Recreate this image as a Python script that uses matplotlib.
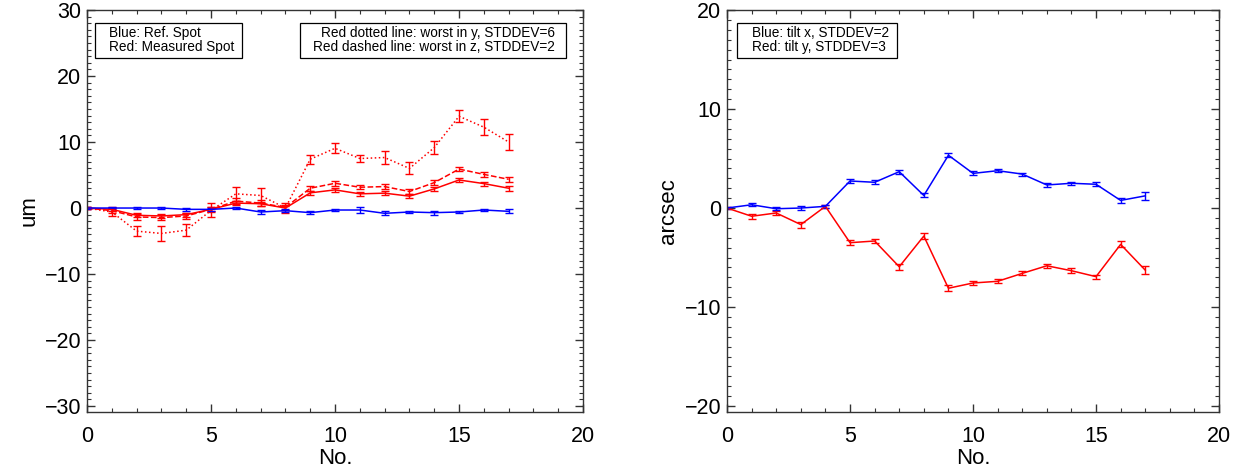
import matplotlib
matplotlib.use("Agg")
import matplotlib.pyplot as plt
from matplotlib.ticker import MultipleLocator
from matplotlib.patches import Rectangle

plt.rcParams['font.family'] = ['Liberation Sans', 'DejaVu Sans']

# point index
no = list(range(18))

# left panel: spot positions (um)
ref_spot = [0, 0.0, 0.0, 0.0, -0.2, -0.2, 0.0, -0.6, -0.4, -0.7, -0.3, -0.3, -0.8, -0.6, -0.7, -0.6, -0.3, -0.5]
ref_err = [0.1, 0.2, 0.2, 0.2, 0.2, 0.2, 0.2, 0.3, 0.2, 0.2, 0.2, 0.4, 0.3, 0.2, 0.3, 0.2, 0.2, 0.3]

meas_spot = [0, -0.2, -1.1, -1.2, -1.0, -0.2, 0.75, 0.65, 0.0, 2.3, 2.75, 2.15, 2.25, 1.8, 2.9, 4.25, 3.7, 3.0]
meas_err = [0.1, 0.3, 0.3, 0.3, 0.3, 0.3, 0.3, 0.3, 0.3, 0.3, 0.3, 0.3, 0.3, 0.3, 0.3, 0.3, 0.3, 0.4]

worst_z = [0, -0.4, -1.35, -1.45, -1.2, -0.2, 1.05, 0.75, 0.1, 3.0, 3.75, 3.15, 3.25, 2.5, 3.85, 5.9, 5.1, 4.35]
worst_z_err = [0.1, 0.4, 0.4, 0.4, 0.4, 0.4, 0.4, 0.4, 0.4, 0.4, 0.4, 0.3, 0.4, 0.4, 0.4, 0.3, 0.4, 0.4]

worst_y = [0, -0.6, -3.5, -3.85, -3.35, -0.35, 2.15, 1.9, 0.0, 7.4, 9.05, 7.5, 7.65, 6.0, 9.15, 13.9, 12.25, 10.0]
worst_y_err = [0.1, 0.6, 0.8, 1.1, 0.9, 1.05, 1.05, 1.1, 0.7, 0.7, 0.75, 0.55, 0.95, 0.9, 1.0, 0.9, 1.2, 1.2]

# right panel: tilts (arcsec)
tilt_x = [0, 0.33, -0.07, 0.0, 0.17, 2.73, 2.6, 3.67, 1.27, 5.33, 3.5, 3.77, 3.43, 2.33, 2.5, 2.4, 0.77, 1.23]
tilt_x_err = [0.1, 0.15, 0.15, 0.2, 0.15, 0.2, 0.2, 0.2, 0.2, 0.2, 0.2, 0.15, 0.15, 0.2, 0.15, 0.2, 0.25, 0.4]
tilt_y = [0, -0.83, -0.5, -1.67, 0.17, -3.5, -3.33, -5.93, -2.83, -8.1, -7.57, -7.4, -6.6, -5.83, -6.33, -6.93, -3.67, -6.27]
tilt_y_err = [0.1, 0.25, 0.2, 0.3, 0.15, 0.25, 0.2, 0.3, 0.3, 0.3, 0.2, 0.2, 0.2, 0.2, 0.25, 0.2, 0.3, 0.4]

fig = plt.figure(figsize=(12.4, 4.69), dpi=100, facecolor='white')
ax1 = fig.add_axes([0.0702, 0.1215, 0.4, 0.8572])
ax2 = fig.add_axes([0.5863, 0.1215, 0.3968, 0.8572])


def series(ax, y, err, color, ls):
    ax.errorbar(no, y, yerr=err, color=color, ls=ls, lw=1.1, elinewidth=1.0,
                capsize=3, capthick=1.0)


def style(ax, ylim, ylabel):
    ax.set_xlim(0, 20)
    ax.set_ylim(*ylim)
    ax.xaxis.set_major_locator(MultipleLocator(5))
    ax.xaxis.set_minor_locator(MultipleLocator(1))
    ax.yaxis.set_major_locator(MultipleLocator(10))
    ax.yaxis.set_minor_locator(MultipleLocator(1))
    ax.tick_params(which='both', direction='in', top=True, right=True,
                   labelsize=15.5, color='#333333')
    ax.tick_params(which='major', length=6, width=1)
    ax.tick_params(which='minor', length=3, width=0.8)
    ax.tick_params(axis='x', which='major', pad=10)
    ax.tick_params(axis='y', which='major', pad=4)
    for s in ax.spines.values():
        s.set_color('#333333')
        s.set_linewidth(1.0)
    ax.set_xlabel('No.', fontsize=16, labelpad=1)
    ax.set_ylabel(ylabel, fontsize=16, labelpad=4)


def box(ax, x0, x1, y0, y1):
    ax.add_patch(Rectangle((x0, y0), x1 - x0, y1 - y0, transform=ax.transAxes,
                           fill=False, ec='black', lw=0.9, zorder=5))


series(ax1, worst_y, worst_y_err, 'red', ':')
series(ax1, worst_z, worst_z_err, 'red', '--')
series(ax1, meas_spot, meas_err, 'red', '-')
series(ax1, ref_spot, ref_err, 'blue', '-')
style(ax1, (-30.9, 30), 'um')

fs = 9.8
box(ax1, 0.016, 0.3125, 0.88, 0.9675)
ax1.text(0.0444, 0.9425, 'Blue: Ref. Spot', transform=ax1.transAxes,
         fontsize=fs, ha='left', va='center')
ax1.text(0.0444, 0.9075, 'Red: Measured Spot', transform=ax1.transAxes,
         fontsize=fs, ha='left', va='center')
box(ax1, 0.4294, 0.9657, 0.88, 0.9675)
ax1.text(0.9435, 0.9425, 'Red dotted line: worst in y, STDDEV=6', transform=ax1.transAxes,
         fontsize=fs, ha='right', va='center')
ax1.text(0.9435, 0.9075, 'Red dashed line: worst in z, STDDEV=2', transform=ax1.transAxes,
         fontsize=fs, ha='right', va='center')

series(ax2, tilt_y, tilt_y_err, 'red', '-')
series(ax2, tilt_x, tilt_x_err, 'blue', '-')
style(ax2, (-20.6, 20), 'arcsec')

box(ax2, 0.0203, 0.3455, 0.88, 0.9675)
ax2.text(0.0508, 0.9425, 'Blue: tilt x, STDDEV=2', transform=ax2.transAxes,
         fontsize=fs, ha='left', va='center')
ax2.text(0.0508, 0.9075, 'Red: tilt y, STDDEV=3', transform=ax2.transAxes,
         fontsize=fs, ha='left', va='center')

fig.savefig('out.png', dpi=100, facecolor='white')
